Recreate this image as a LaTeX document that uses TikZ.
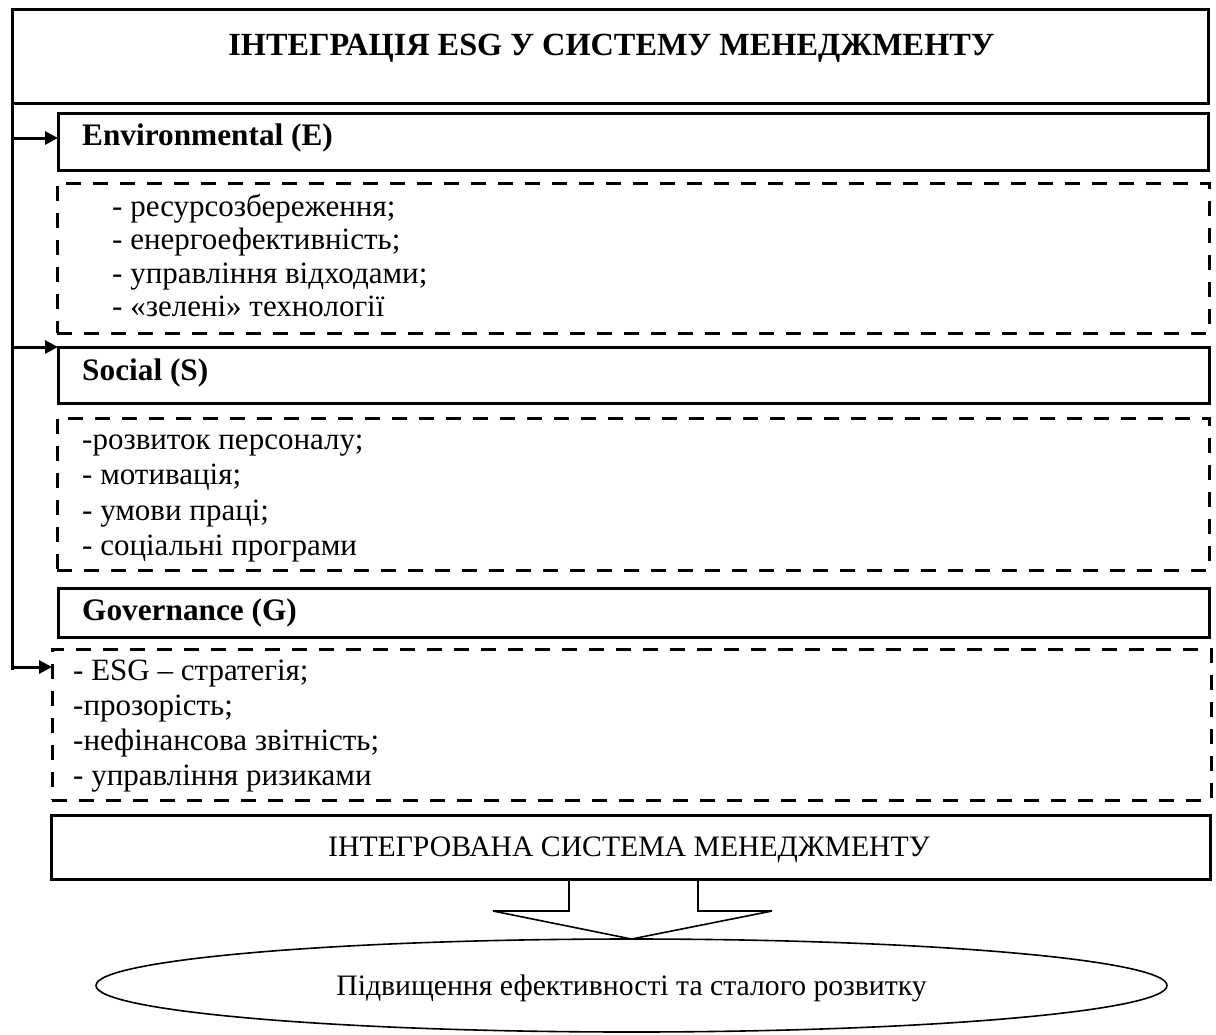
\documentclass[tikz,border=0pt]{standalone}
\usepackage{fontspec}
\setmainfont{Liberation Serif}
\usetikzlibrary{fit,arrows.meta,shapes.geometric}
\begin{document}
\begin{tikzpicture}[x=1pt,y=-1pt,
  solidbox/.style={draw=black, line width=3pt, inner sep=0pt, outer sep=0pt},
  dashbox/.style={draw=black, line width=3pt, dash pattern=on 15pt off 12pt, inner sep=0pt, outer sep=0pt},
  txt/.style={inner sep=0pt, font=\fontsize{31}{35}\selectfont},
  smalltxt/.style={inner sep=0pt, font=\fontsize{29.7}{34}\selectfont},
  btxt/.style={inner sep=0pt, font=\fontsize{31.3}{35}\selectfont\bfseries},
  arr/.style={line width=3pt, -{Triangle[length=13pt,width=13pt]}},
  thin/.style={line width=1.6pt}]
\useasboundingbox (0,0) rectangle (1216,1034);
% boxes
\node[solidbox, fit={(12,9) (1208,103)}] (title) {};
\node[solidbox, fit={(58,113) (1208,170)}] (E) {};
\node[dashbox, fit={(57,183) (1209,333)}] (Ed) {};
\node[solidbox, fit={(58,347) (1209,403)}] (S) {};
\node[dashbox, fit={(57,418) (1209,570)}] (Sd) {};
\node[solidbox, fit={(58,588) (1209,637)}] (G) {};
\node[dashbox, fit={(52,649) (1211,800)}] (Gd) {};
\node[solidbox, fit={(51,815) (1210,879)}] (I) {};
% texts
\node[inner sep=0pt, font=\fontsize{32.3}{36}\selectfont\bfseries, anchor=base] (titletext) at (611.5,55) {ІНТЕГРАЦІЯ ESG У СИСТЕМУ МЕНЕДЖМЕНТУ};
\node[btxt, anchor=base west] (Etext) at (82,145) {Environmental (E)};
\node[btxt, anchor=base west] (Stext) at (82,380) {Social (S)};
\node[btxt, anchor=base west] (Gtext) at (82,620) {Governance (G)};
\node[inner sep=0pt, font=\fontsize{31}{33.5}\selectfont, anchor=base west] (Elist) at (112,216) {\begin{tabular}[t]{@{}l@{}}- ресурсозбереження;\\- енергоефективність;\\- управління відходами;\\- «зелені» технології\end{tabular}};
\node[inner sep=0pt, font=\fontsize{31}{35.5}\selectfont, anchor=base west] (Slist) at (82,449) {\begin{tabular}[t]{@{}l@{}}-розвиток персоналу;\\- мотивація;\\- умови праці;\\- соціальні програми\end{tabular}};
\node[inner sep=0pt, font=\fontsize{31}{35}\selectfont, anchor=base west] (Glist) at (73,680) {\begin{tabular}[t]{@{}l@{}}- ESG – стратегія;\\-прозорість;\\-нефінансова звітність;\\- управління ризиками\end{tabular}};
\node[smalltxt, anchor=base] (Itext) at (629,856) {ІНТЕГРОВАНА СИСТЕМА МЕНЕДЖМЕНТУ};
% ellipse
\node[draw=black, thin, ellipse, minimum width=1071pt, minimum height=93pt, inner sep=0pt, outer sep=0pt] (R) at (631.5,985.5) {};
\node[smalltxt, anchor=base] (Rtext) at (631.5,995) {Підвищення ефективності та сталого розвитку};
% spine and arrows
\coordinate (spinetop) at (title.south west);
\coordinate (spineend) at (12,670);
\draw[line width=3pt] (spinetop) -- (spineend);
\coordinate (aE) at (12,138);
\coordinate (aS) at (12,347);
\coordinate (aG) at (12,667);
\draw[arr] (aE) -- (aE -| E.west);
\draw[arr] (aS) -- (aS -| S.west);
\draw[arr] (aG) -- (aG -| Gd.west);
% block arrow
\draw[thin, line join=miter] (569,879) -- (569,911) -- (493,911) -- (R.north) -- (772,911) -- (698,911) -- (698,879);
\end{tikzpicture}
\end{document}
